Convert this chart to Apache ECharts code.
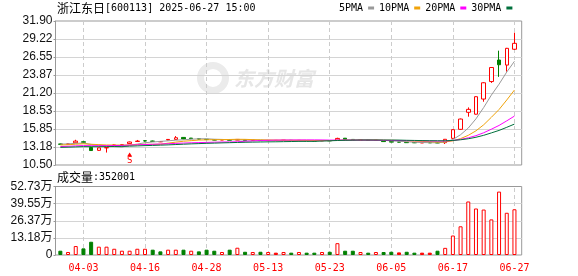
<!DOCTYPE html>
<html><head><meta charset="utf-8">
<script src="https://cdn.jsdelivr.net/npm/echarts@6/dist/echarts.min.js"></script>
<style>html,body{margin:0;padding:0;background:#fff}#c{width:578px;height:276px}</style>
</head><body><div id="c"></div><script>
const dates = ['03-31','04-01','04-02','04-03','04-07','04-08','04-09','04-10','04-11','04-14',
'04-15','04-16','04-17','04-18','04-21','04-22','04-23','04-24','04-25','04-28',
'04-29','04-30','05-06','05-07','05-08','05-09','05-12','05-13','05-14','05-15',
'05-16','05-19','05-20','05-21','05-22','05-23','05-26','05-27','05-28','05-29',
'05-30','06-03','06-04','06-05','06-06','06-09','06-10','06-11','06-12','06-13',
'06-16','06-17','06-18','06-19','06-20','06-23','06-24','06-25','06-26','06-27'];
const openP = [13.62,13.60,13.80,13.95,13.10,12.68,13.05,13.42,13.50,13.68,
14.00,14.10,14.05,13.95,14.22,14.30,14.60,14.50,14.40,14.32,
14.26,14.22,14.24,14.20,14.22,14.16,14.16,14.13,14.15,14.16,
14.17,14.12,14.14,14.10,14.10,14.12,14.20,14.48,14.30,14.22,
14.22,14.16,14.10,13.98,13.92,13.88,13.84,13.80,13.82,13.82,
13.82,14.46,15.80,18.33,18.05,20.30,22.90,26.10,25.35,27.70];
const closeP = [13.58,13.62,14.05,13.88,12.65,13.05,13.08,13.48,13.52,13.92,
14.05,14.08,14.02,13.98,14.30,14.55,14.38,14.42,14.35,14.28,
14.20,14.25,14.18,14.30,14.15,14.18,14.12,14.15,14.15,14.18,
14.12,14.16,14.10,14.08,14.12,14.10,14.45,14.30,14.22,14.25,
14.15,14.18,13.98,13.90,13.90,13.82,13.80,13.80,13.80,13.78,
14.32,15.75,17.33,18.77,20.65,22.72,24.99,25.40,27.84,28.58];
const highP = [13.68,13.66,14.25,14.02,13.12,13.08,13.12,13.55,13.58,13.98,
14.22,14.18,14.12,14.05,14.35,14.80,14.65,14.52,14.45,14.36,
14.30,14.30,14.27,14.34,14.24,14.22,14.18,14.18,14.20,14.22,
14.19,14.18,14.16,14.12,14.15,14.14,14.55,14.50,14.32,14.28,
14.24,14.20,14.12,14.02,13.95,13.90,13.86,13.84,13.85,13.92,
14.35,15.80,17.40,19.06,20.70,22.80,25.02,27.49,27.90,30.17];
const lowP = [13.52,13.56,13.78,13.80,12.60,12.62,12.35,13.38,13.45,13.65,
13.92,13.98,13.98,13.90,14.18,14.25,14.32,14.36,14.30,14.25,
14.18,14.20,14.15,14.18,14.12,14.12,14.10,14.10,14.12,14.14,
14.10,14.10,14.08,14.05,14.08,14.06,14.15,14.28,14.18,14.20,
14.12,14.14,13.95,13.88,13.86,13.78,13.76,13.78,13.77,13.75,
13.62,14.40,15.70,17.68,18.00,19.90,22.70,23.60,24.37,27.60];
const prevClose = 13.68;
const volume = [33000,23000,69000,51000,102000,64000,64000,48000,33000,33000,
48000,48000,41000,28000,41000,41000,41000,33000,28000,41000,
33000,23000,41000,56000,25000,23000,25000,23000,18000,23000,
18000,23000,18000,18000,23000,25000,91000,33000,33000,23000,
18000,23000,23000,25000,20000,25000,18000,18000,18000,33000,
55000,150000,221000,412000,358000,350000,274000,488000,325000,352001];
const ma5 = [13.61,13.63,13.72,13.76,13.56,13.45,13.34,13.23,13.16,13.41,
13.61,13.81,13.92,14.01,14.09,14.19,14.25,14.33,14.40,14.40,
14.33,14.30,14.25,14.24,14.22,14.21,14.19,14.18,14.15,14.16,
14.14,14.15,14.14,14.13,14.12,14.11,14.17,14.21,14.24,14.26,
14.27,14.22,14.16,14.09,14.02,13.96,13.88,13.84,13.82,13.80,
13.90,14.29,15.00,15.99,17.36,19.04,20.89,22.51,24.32,25.91];
const ma10 = [13.47,13.51,13.59,13.65,13.58,13.53,13.48,13.47,13.46,13.48,
13.53,13.58,13.57,13.58,13.75,13.90,14.03,14.12,14.21,14.24,
14.26,14.27,14.29,14.32,14.31,14.27,14.24,14.22,14.20,14.19,
14.18,14.17,14.16,14.14,14.14,14.13,14.16,14.18,14.18,14.19,
14.19,14.20,14.18,14.17,14.14,14.12,14.05,14.00,13.96,13.91,
13.93,14.09,14.42,14.91,15.58,16.47,17.59,18.75,20.16,21.64];
const ma20 = [13.24,13.28,13.34,13.38,13.37,13.37,13.37,13.39,13.41,13.46,
13.50,13.54,13.58,13.62,13.66,13.71,13.76,13.80,13.83,13.86,
13.89,13.92,13.93,13.95,14.03,14.08,14.14,14.17,14.20,14.21,
14.22,14.22,14.23,14.23,14.22,14.20,14.20,14.20,14.19,14.19,
14.19,14.18,14.17,14.15,14.14,14.12,14.11,14.09,14.07,14.05,
14.06,14.14,14.30,14.54,14.86,15.29,15.82,16.38,17.06,17.77];
const ma30 = [13.12,13.15,13.19,13.23,13.22,13.22,13.23,13.25,13.27,13.30,
13.34,13.38,13.41,13.45,13.49,13.54,13.59,13.64,13.68,13.72,
13.75,13.79,13.82,13.85,13.88,13.90,13.92,13.94,13.95,13.97,
13.99,14.01,14.01,14.01,14.06,14.10,14.14,14.17,14.19,14.21,
14.21,14.21,14.21,14.21,14.20,14.17,14.15,14.13,14.11,14.10,
14.10,14.15,14.25,14.40,14.62,14.91,15.27,15.64,16.10,16.58];
const tickDates = ['04-03','04-16','04-28','05-13','05-23','06-05','06-17','06-27'];
const priceMin = 10.50, priceMax = 31.90, priceStep = 2.675;
const priceTicks = ['10.50','13.18','15.85','18.53','21.20','23.87','26.55','29.22','31.90'];
const volMax = 527300, volStep = 131825;
const volTicks = ['0','13.18万','26.37万','39.55万','52.73万'];
const maNames = ['5PMA','10PMA','20PMA','30PMA'];
const markerDate = '04-14', markerPrice = 12.05;
const titleName = '浙江东日', titleRest = '[600113] 2025-06-27 15:00';
const volTitle = '成交量:352001';

const RED = '#ff0000', GREEN = '#008000';
const maColors = ['#999999','#f0a30a','#ff00ff','#00703c'];
const mono = 'DejaVu Sans Mono';
const L = 56.5, W = 461.8, FL = 55.5, FW = 466.2;
const T1 = 21, H1 = 144, T2 = 186.5, H2 = 68.5;

const volData = volume.map((v, i) => {
  const pc = i === 0 ? prevClose : closeP[i - 1];
  const dir = closeP[i] > pc ? 1 : (closeP[i] < pc ? -1 : 0);
  return { value: v, itemStyle: {
    color: dir > 0 ? '#ffffff' : (dir < 0 ? GREEN : RED),
    borderColor: dir < 0 ? GREEN : RED, borderWidth: 1 } };
});
const vlines = {
  silent: true, symbol: ['none','none'], label: { show: false }, z: 1,
  lineStyle: { type: [4, 3], color: '#cccccc', width: 1 },
  emphasis: { disabled: true },
  data: tickDates.map(d => ({ xAxis: d }))
};

const chart = echarts.init(document.getElementById('c'));
chart.setOption({
  animation: false,
  backgroundColor: '#ffffff',
  legend: {
    left: 339, top: 3, padding: 0, align: 'right', itemWidth: 6, itemHeight: 3, itemGap: 5,
    icon: 'rect', selectedMode: false, data: maNames,
    textStyle: { fontFamily: mono, fontSize: 10, color: '#000' }
  },
  graphic: [
    { type: 'text', left: 57, top: 2, silent: true, style: {
      text: '{a|' + titleName + '}{b|' + titleRest + '}',
      rich: { a: { fontSize: 12, fontFamily: 'Noto Sans CJK SC', fill: '#000' },
              b: { fontSize: 10, fontFamily: mono, fill: '#000' } } } },
    { type: 'text', left: 57, top: 171, silent: true, style: {
      text: '{a|成交量}{b|' + volTitle.slice(3) + '}',
      rich: { a: { fontSize: 12, fontFamily: 'Noto Sans CJK SC', fill: '#000' },
              b: { fontSize: 10, fontFamily: mono, fill: '#000' } } } },
    { type: 'group', left: 197, top: 62, silent: true, z: 0, children: [
      { type: 'ring', shape: { cx: 17, cy: 24, r: 16, r0: 9 }, style: { fill: '#ebebeb' } },
      { type: 'text', x: 38, y: 24, style: { text: '东方财富', fontSize: 20, fontWeight: 'bold',
        fontStyle: 'italic', fontFamily: 'Noto Sans CJK SC', fill: '#e6e6e6', verticalAlign: 'middle' } }
    ] }
  ],
  grid: [
    { left: L, top: T1, width: W, height: H1 },
    { left: FL, top: T1, width: FW, height: H1, show: true, borderColor: '#999', borderWidth: 1 },
    { left: L, top: T2, width: W, height: H2 },
    { left: FL, top: T2, width: FW, height: H2, show: true, borderColor: '#999', borderWidth: 1 }
  ],
  xAxis: [
    { type: 'category', gridIndex: 0, data: dates, boundaryGap: true, show: false },
    { type: 'value', gridIndex: 1, min: 0, max: 1, show: false },
    { type: 'category', gridIndex: 2, data: dates, boundaryGap: true,
      axisLine: { show: false }, axisTick: { show: false }, splitLine: { show: false },
      axisLabel: { interval: (i, v) => tickDates.includes(v), color: RED, fontFamily: mono,
        fontSize: 10, margin: 8, hideOverlap: false } },
    { type: 'value', gridIndex: 3, min: 0, max: 1, show: false }
  ],
  yAxis: [
    { type: 'value', gridIndex: 0, min: priceMin, max: priceMax, show: false },
    { type: 'value', gridIndex: 1, min: priceMin, max: priceMax, interval: priceStep,
      axisLine: { show: true, lineStyle: { color: '#999' } },
      axisTick: { show: true, length: 2, lineStyle: { color: '#999' } },
      axisLabel: { margin: 3, fontFamily: 'Liberation Sans', fontSize: 12, color: '#111',
        formatter: v => priceTicks[Math.round((v - priceMin) / priceStep)] },
      splitLine: { show: true, showMinLine: false, showMaxLine: false, lineStyle: { color: '#d4d4d4' } } },
    { type: 'value', gridIndex: 2, min: 0, max: volMax, show: false },
    { type: 'value', gridIndex: 3, min: 0, max: volMax, interval: volStep,
      axisLine: { show: true, lineStyle: { color: '#999' } },
      axisTick: { show: true, length: 2, lineStyle: { color: '#999' } },
      axisLabel: { margin: 3, fontFamily: 'Liberation Sans, Noto Sans CJK SC', fontSize: 12, color: '#111',
        formatter: v => volTicks[Math.round(v / volStep)] },
      splitLine: { show: true, showMinLine: false, showMaxLine: false, lineStyle: { color: '#d4d4d4' } } }
  ],
  series: [
    { type: 'candlestick', name: 'K', xAxisIndex: 0, yAxisIndex: 0, barWidth: 4,
      data: dates.map((d, i) => [openP[i], closeP[i], lowP[i], highP[i]]),
      itemStyle: { color: '#ffffff', color0: GREEN, borderColor: RED, borderColor0: GREEN,
        borderColorDoji: RED, borderWidth: 1 },
      markLine: vlines,
      markPoint: { silent: true, data: [{ coord: [markerDate, markerPrice], symbol: 'triangle',
        symbolSize: [5, 4], itemStyle: { color: RED },
        label: { show: true, position: 'bottom', distance: 0, formatter: 'S', color: RED,
          fontSize: 9, fontFamily: mono } }] } },
    ...[ma5, ma10, ma20, ma30].map((arr, k) => ({
      type: 'line', name: maNames[k], xAxisIndex: 0, yAxisIndex: 0, data: arr,
      showSymbol: false, symbol: 'none', color: maColors[k],
      lineStyle: { width: 1, color: maColors[k] }, itemStyle: { color: maColors[k] }, z: 3
    })),
    { type: 'bar', name: 'VOL', xAxisIndex: 2, yAxisIndex: 2, barWidth: 4, data: volData,
      markLine: vlines }
  ]
});
</script></body></html>
